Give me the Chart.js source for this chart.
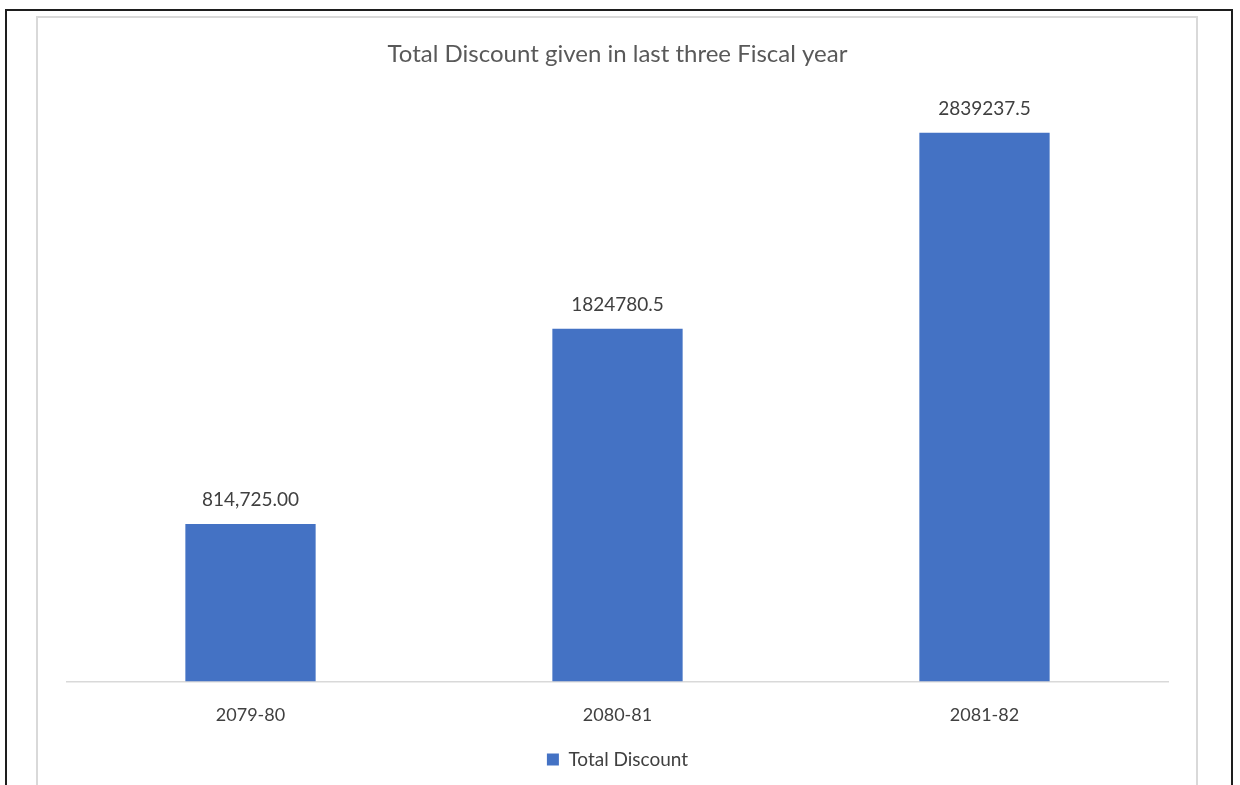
<!DOCTYPE html>
<html>
<head>
<meta charset="utf-8">
<script src="https://cdn.jsdelivr.net/npm/chart.js@4.4.1/dist/chart.umd.min.js"></script>
<style>
  html,body{margin:0;padding:0;background:#fff;overflow:hidden;}
  #wrap{position:relative;width:1240px;height:785px;}
  /* frames of the pasted Excel chart */
  .outer{position:absolute;left:5px;top:9px;width:1224px;height:800px;border:2px solid #1e1e1e;border-bottom:none;}
  .inner{position:absolute;left:36px;top:16px;width:1158px;height:800px;border:2px solid #d9d9d9;border-bottom:none;}
  canvas{position:absolute;left:0;top:0;}
</style>
</head>
<body>
<div id="wrap">
  <div class="outer"></div>
  <div class="inner"></div>
  <canvas id="c" width="1240" height="785"></canvas>
</div>
<script>
/* ---------- data ---------- */
const years   = ['2079-80', '2080-81', '2081-82'];
const totals  = [814725.00, 1824780.5, 2839237.5];
const labels  = ['814,725.00', '1824780.5', '2839237.5'];   // as printed on the chart

const FONT = 'Lato, "Open Sans", sans-serif';

/* ---------- value labels over bars ---------- */
const barLabels = {
  id:'barLabels',
  afterDatasetsDraw(chart){
    const {ctx} = chart;
    const meta = chart.getDatasetMeta(0);
    ctx.save();
    ctx.font = '19px ' + FONT;
    ctx.fillStyle = '#404040';
    ctx.textAlign = 'center';
    ctx.textBaseline = 'middle';
    meta.data.forEach((bar,i)=>{
      ctx.fillText(labels[i], bar.x, bar.y - 24);
    });
    ctx.restore();
  }
};

new Chart(document.getElementById('c'), {
  type:'bar',
  data:{
    labels:years,
    datasets:[{
      label:'Total Discount',
      data:totals,
      backgroundColor:'#4472C4',
      borderWidth:0,
      categoryPercentage:1,
      barPercentage:0.355
    }]
  },
  options:{
    responsive:false, animation:false,
    devicePixelRatio:1,
    layout:{padding:{left:67,right:72,top:40,bottom:6}},
    plugins:{
      title:{display:true,text:'Total Discount given in last three Fiscal year',
             color:'#595959',font:{family:FONT,size:24,weight:'normal'},
             padding:{top:0,bottom:33}},
      legend:{position:'bottom',
              labels:{color:'#404040',font:{family:FONT,size:19},
                      boxWidth:12,boxHeight:12,padding:10}},
      tooltip:{enabled:false}
    },
    scales:{
      x:{grid:{display:false,drawTicks:false},
         border:{display:true,color:'#d9d9d9',width:1.5},
         ticks:{color:'#404040',font:{family:FONT,size:18},padding:23},
         afterFit(scale){ scale.height -= 9; }},
      y:{display:false,min:0,max:3000000}
    }
  },
  plugins:[barLabels]
});
</script>
</body>
</html>
